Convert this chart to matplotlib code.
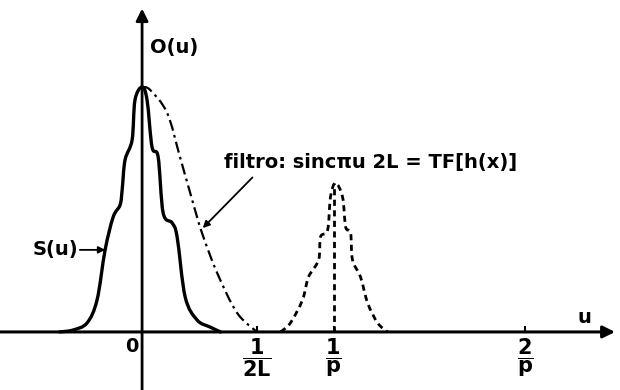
import numpy as np
import matplotlib
matplotlib.use('Agg')
import matplotlib.pyplot as plt
from matplotlib.path import Path
from matplotlib.patches import PathPatch

plt.rcParams['font.family'] = ['DejaVu Sans']
plt.rcParams['mathtext.fontset'] = 'dejavusans'

# u in units of 1/p, amplitude relative to the peak of S(u)
s_u = [-0.43, -0.36, -0.287, -0.235, -0.193, -0.151, -0.115, -0.104, -0.089,
       -0.052, -0.037, 0.0, 0.026, 0.052, 0.084, 0.110, 0.157, 0.183,
       0.225, 0.287, 0.355, 0.41]
s_val = [0.0, 0.008, 0.037, 0.131, 0.335, 0.469, 0.518, 0.58, 0.702,
         0.784, 0.947, 1.0, 0.947, 0.755, 0.714, 0.486, 0.445, 0.388,
         0.143, 0.049, 0.020, 0.0]

filt_u = [0.0, 0.042, 0.131, 0.198, 0.266, 0.313, 0.392, 0.496, 0.60]
filt_val = [1.0, 0.988, 0.894, 0.714, 0.527, 0.404, 0.241, 0.078, 0.0]

# copy of the spectrum around 1/p (offset from 1/p)
rep_du = [-0.277, -0.225, -0.162, -0.131, -0.078, -0.068, -0.031, -0.016,
          0.01, 0.047, 0.063, 0.089, 0.099, 0.141, 0.178, 0.23, 0.282]
rep_val = [0.0, 0.037, 0.131, 0.224, 0.294, 0.388, 0.416, 0.551,
           0.608, 0.551, 0.429, 0.404, 0.294, 0.224, 0.118, 0.037, 0.0]

u_cut = 0.60      # 1/2L
u_p = 1.0         # 1/p
u_2p = 2.0        # 2/p


def smooth_path(xs, ys):
    # catmull-rom through the points, drawn as cubic bezier segments
    p = np.column_stack([xs, ys]).astype(float)
    verts = [p[0]]
    codes = [Path.MOVETO]
    n = len(p)
    for i in range(n - 1):
        p0 = p[i - 1] if i > 0 else p[i]
        p1, p2 = p[i], p[i + 1]
        p3 = p[i + 2] if i + 2 < n else p[i + 1]
        verts += [p1 + (p2 - p0) / 6, p2 - (p3 - p1) / 6, p2]
        codes += [Path.CURVE4] * 3
    return Path(verts, codes)


fig = plt.figure(figsize=(6.2, 3.9), dpi=100)
ax = fig.add_axes([0, 0, 1, 1])
ax.set_xlim(-0.742, 2.496)
ax.set_ylim(-0.237, 1.355)
ax.axis('off')

# axes with arrows
ax.annotate('', xy=(2.47, 0), xytext=(-0.742, 0),
            arrowprops=dict(arrowstyle='-|>', lw=2.2, color='black',
                            mutation_scale=18, shrinkA=0, shrinkB=0))
ax.annotate('', xy=(0, 1.32), xytext=(0, -0.237),
            arrowprops=dict(arrowstyle='-|>', lw=2.0, color='black',
                            mutation_scale=18, shrinkA=0, shrinkB=0))

# tick marks
for t in [u_cut, u_p, u_2p]:
    ax.plot([t, t], [0, 0.02], color='black', lw=1.5)

# curves
ax.add_patch(PathPatch(smooth_path(s_u, s_val), fill=False, color='black',
                       lw=2.4, joinstyle='round', capstyle='round'))
ax.add_patch(PathPatch(smooth_path(filt_u, filt_val), fill=False,
                       color='black', lw=1.6,
                       linestyle=(0, (5, 2, 1.2, 2))))
rep_u = [u_p + d for d in rep_du]
ax.add_patch(PathPatch(smooth_path(rep_u, rep_val), fill=False,
                       color='black', lw=2.0, linestyle=(0, (2.2, 1.6))))
ax.plot([u_p, u_p], [0, max(rep_val)], color='black', lw=2.0,
        linestyle=(0, (2.2, 1.6)))

# labels
fs = 14
ax.text(0.04, 1.162, 'O(u)', fontsize=fs, va='center', ha='left',
        fontweight='bold')
ax.text(2.31, 0.058, 'u', fontsize=fs, va='center', ha='center',
        fontweight='bold')
ax.text(-0.055, -0.06, '0', fontsize=fs, va='center', ha='center',
        fontweight='bold')
for t, lab in [(u_cut, r'$\dfrac{\mathbf{1}}{\mathbf{2L}}$'),
               (u_p, r'$\dfrac{\mathbf{1}}{\mathbf{p}}$'),
               (u_2p, r'$\dfrac{\mathbf{2}}{\mathbf{p}}$')]:
    ax.text(t, -0.105, lab, fontsize=15, va='center', ha='center')

ax.text(-0.334, 0.335, 'S(u)', fontsize=fs, va='center', ha='right',
        fontweight='bold')
ax.annotate('', xy=(-0.192, 0.335), xytext=(-0.325, 0.335),
            arrowprops=dict(arrowstyle='-|>', lw=1.3, color='black',
                            mutation_scale=10, shrinkA=0, shrinkB=0))

ax.annotate('filtro: sinc\u03c0u 2L = TF[h(x)]', xy=(0.317, 0.424),
            xytext=(0.43, 0.693), fontsize=14, va='center', ha='left',
            fontweight='bold',
            arrowprops=dict(arrowstyle='-|>', lw=1.3, color='black',
                            mutation_scale=10, shrinkA=3, shrinkB=0,
                            relpos=(0.115, 0.0)))

fig.savefig('out.png', dpi=100)
